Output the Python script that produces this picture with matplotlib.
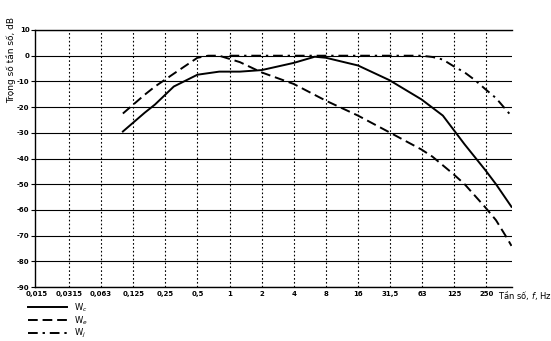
import matplotlib
matplotlib.use("Agg")
import matplotlib.pyplot as plt

# octave frequencies on the x axis and their printed labels
tick_freqs = [0.015625, 0.03125, 0.0625, 0.125, 0.25, 0.5, 1, 2, 4, 8, 16, 32, 64, 128, 256]
tick_labels = ["0,015", "0,0315", "0,063", "0,125", "0,25", "0,5", "1", "2",
               "4", "8", "16", "31,5", "63", "125", "250"]
db_ticks = [10, 0, -10, -20, -30, -40, -50, -60, -70, -80, -90]

# Wc (solid)
wc_f = [0.1, 0.16, 0.2, 0.3, 0.5, 0.8, 1.25, 2, 4, 6.3, 8, 16, 31.5, 63, 100, 160, 250, 315, 440]
wc_db = [-29.5, -22.2, -19, -12, -7.4, -6.2, -6.2, -5.6, -2.8, -0.4, -0.8, -3.8, -9.5,
         -17, -23.3, -34.5, -44.5, -50, -58.8]

# We (dashed)
we_f = [0.1, 0.16, 0.2, 0.3, 0.5, 0.63, 0.8, 1.25, 2, 4, 8, 16, 31.5, 63, 80, 125, 160,
        250, 315, 400, 440]
we_db = [-22.5, -15.2, -12, -7, -0.8, 0, 0, -2.5, -6.5, -11, -17.5, -23.3, -29.8, -36.5,
         -39.3, -46, -50, -59, -64, -71, -74]

# Wj (dash-dot)
wj_f = [1, 2, 4, 8, 16, 31.5, 63, 80, 100, 125, 160, 200, 250, 315, 440]
wj_db = [0, 0, 0, 0, 0, 0, 0, -0.5, -1.5, -4, -6.5, -9.5, -13, -16.5, -23.5]

fig = plt.figure(figsize=(5.51, 3.41), dpi=100)
ax = fig.add_axes([35 / 551, 1 - 287 / 341, 477 / 551, 257 / 341])

ax.set_xscale("log", base=2)
ax.set_xlim(0.015, 445)
ax.set_ylim(-90, 10)

for y in db_ticks:
    ax.axhline(y, color="black", lw=0.8, zorder=1)
for x in tick_freqs[1:]:
    ax.axvline(x, color="black", lw=0.8, ls=(0, (1.5, 2)), zorder=1)

ax.plot(wc_f, wc_db, color="black", lw=1.4, label="W$_c$", zorder=3)
ax.plot(we_f, we_db, color="black", lw=1.4, ls=(0, (5, 2.5)), label="W$_e$", zorder=3)
ax.plot(wj_f, wj_db, color="black", lw=1.4, ls=(0, (5, 2.5, 1.2, 2.5)), label="W$_j$", zorder=3)

ax.set_xticks(tick_freqs)
ax.set_xticklabels(tick_labels)
ax.minorticks_off()
ax.set_yticks(db_ticks)
ax.set_yticklabels([str(v) for v in db_ticks])
ax.tick_params(axis="both", labelsize=5, length=3, width=0.8, color="black")
ax.tick_params(axis="y", pad=1)
ax.tick_params(axis="x", length=0, pad=3)
for lab in ax.get_xticklabels() + ax.get_yticklabels():
    lab.set_fontweight("bold")

ax.spines["right"].set_visible(False)
for s in ["left", "top", "bottom"]:
    ax.spines[s].set_linewidth(1.0)

fig.text(11 / 551, 1 - 60 / 341, "Trọng số tần số, dB", rotation=90,
         ha="center", va="center", fontsize=6.5)
fig.text(498 / 551, 1 - 296 / 341, "Tần số, $f$, Hz", ha="left", va="center", fontsize=6)

ax.legend(loc="upper left", bbox_to_anchor=(24 / 551, 1 - 297 / 341),
          bbox_transform=fig.transFigure, frameon=False, fontsize=6,
          handlelength=4.6, handletextpad=0.9, labelspacing=0.05, borderpad=0)

fig.savefig("out.png", dpi=100)
